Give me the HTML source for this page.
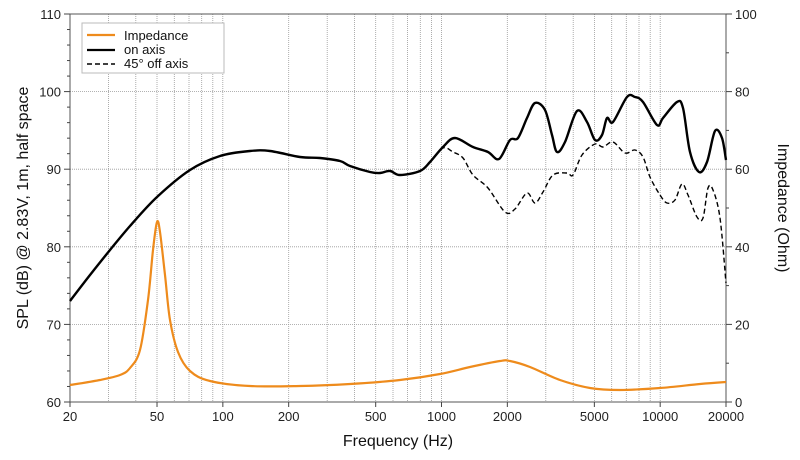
<!DOCTYPE html>
<html><head><meta charset="utf-8"><style>
body{margin:0;background:#fff;}
svg{display:block;font-family:"Liberation Sans",Arial,sans-serif;}
</style></head><body>
<svg id="s" width="800" height="460" xmlns="http://www.w3.org/2000/svg">
<g id="grid"></g>
<rect x="70" y="14" width="656" height="388" fill="none" stroke="#555" stroke-width="1"/>
<g id="ticks" fill="#222" font-size="13"></g>
<path id="imp" fill="none" stroke="#ee8b1c" stroke-width="2.2"/>
<path id="off" fill="none" stroke="#000" stroke-width="1.4" stroke-dasharray="5,3"/>
<path id="on" fill="none" stroke="#000" stroke-width="2.4"/>
<rect x="82" y="23" width="142" height="50" fill="#fff" stroke="#bbb"/>
<line x1="87" y1="35" x2="115" y2="35" stroke="#ee8b1c" stroke-width="2.2"/>
<line x1="87" y1="50" x2="115" y2="50" stroke="#000" stroke-width="2.2"/>
<line x1="87" y1="64" x2="115" y2="64" stroke="#000" stroke-width="1.4" stroke-dasharray="5,3"/>
<g font-size="13" fill="#111"><text x="124" y="40">Impedance</text><text x="124" y="54">on axis</text><text x="124" y="68">45° off axis</text></g>
<text x="0" y="0" font-size="16" fill="#111" text-anchor="middle" transform="translate(28,208) rotate(-90)">SPL (dB) @ 2.83V, 1m, half space</text>
<text x="0" y="0" font-size="16" fill="#111" text-anchor="middle" transform="translate(778,208) rotate(90)">Impedance (Ohm)</text>
<text x="398" y="446" font-size="16" fill="#111" text-anchor="middle">Frequency (Hz)</text>
</svg>
<script>
function sm(p){var d='M'+p[0][0]+','+p[0][1];for(var i=0;i<p.length-1;i++){var a=p[i-1]||p[i],b=p[i],c=p[i+1],e=p[i+2]||c;d+=' C'+(b[0]+(c[0]-a[0])/6).toFixed(1)+','+(b[1]+(c[1]-a[1])/6).toFixed(1)+' '+(c[0]-(e[0]-b[0])/6).toFixed(1)+','+(c[1]-(e[1]-b[1])/6).toFixed(1)+' '+c[0]+','+c[1];}return d;}
var on=[[70,301],[90,275],[110,250],[130,226],[157,197],[190,170],[220,156],[250,151],[270,151],[300,157],[320,158],[340,161],[350,166],[370,172],[380,173],[390,171],[400,175],[420,171],[430,162],[443,147],[455,138],[473,147],[488,152],[499,159],[510,140],[518,138],[527,118],[535,103],[545,110],[552,135],[557,152],[565,142],[577,111],[587,122],[595,140],[602,135],[607,118],[613,122],[627,97],[635,97],[643,102],[657,125],[663,118],[677,102],[683,108],[690,152],[699,172],[707,162],[715,131],[722,138],[726,160]];
var off=[[430,162],[443,148],[453,152],[463,158],[473,175],[488,188],[505,212],[515,209],[527,193],[535,203],[543,192],[553,175],[567,173],[573,175],[582,155],[595,144],[603,147],[613,142],[625,153],[635,150],[643,157],[650,177],[660,195],[667,203],[675,200],[682,184],[688,195],[697,217],[703,218],[708,188],[713,190],[720,218],[726,283]];
var imp=[[70,385],[100,380],[120,375],[130,368],[140,350],[148,300],[153,250],[157,222],[160,232],[165,275],[170,320],[178,352],[190,371],[210,381],[250,386],[300,386],[350,384],[400,380],[440,374],[470,367],[500,361],[510,361],[530,367],[560,380],[590,388],[620,390],[660,388],[700,384],[726,382]];
document.getElementById('on').setAttribute('d',sm(on));
document.getElementById('off').setAttribute('d',sm(off));
document.getElementById('imp').setAttribute('d',sm(imp));
var X=f=>70+218.67*Math.log10(f/20), g=document.getElementById('grid'), t=document.getElementById('ticks'), h='', k='';
for(var d=10;d<=10000;d*=10)for(var m=1;m<10;m++){var f=d*m;if(f<=20||f>=20000)continue;var x=X(f).toFixed(1);h+='<line x1="'+x+'" y1="14" x2="'+x+'" y2="402" stroke="#999" stroke-width="0.8" stroke-dasharray="1,1"/>';}
for(var v=70;v<=100;v+=10){var y=402-(v-60)*7.76;h+='<line x1="70" y1="'+y+'" x2="726" y2="'+y+'" stroke="#999" stroke-width="0.8" stroke-dasharray="1,1"/>';}
g.innerHTML=h;
[20,50,100,200,500,1000,2000,5000,10000,20000].forEach(f=>{var x=X(f);k+='<text x="'+x+'" y="421" text-anchor="middle">'+f+'</text><line x1="'+x+'" y1="402" x2="'+x+'" y2="407" stroke="#444"/>';});
for(var v=60;v<=110;v+=2){var y=402-(v-60)*7.76;var mj=v%10==0;k+='<line x1="'+(mj?64:67)+'" y1="'+y+'" x2="70" y2="'+y+'" stroke="#444"/>';if(mj)k+='<text x="61" y="'+(y+5)+'" text-anchor="end">'+v+'</text>';}
for(var v=0;v<=100;v+=10){var y=402-v*3.88;var mj=v%20==0;k+='<line x1="726" y1="'+y+'" x2="'+(mj?732:729)+'" y2="'+y+'" stroke="#444"/>';if(mj)k+='<text x="735" y="'+(y+5)+'">'+v+'</text>';}
t.innerHTML=k;
</script>
</body></html>
